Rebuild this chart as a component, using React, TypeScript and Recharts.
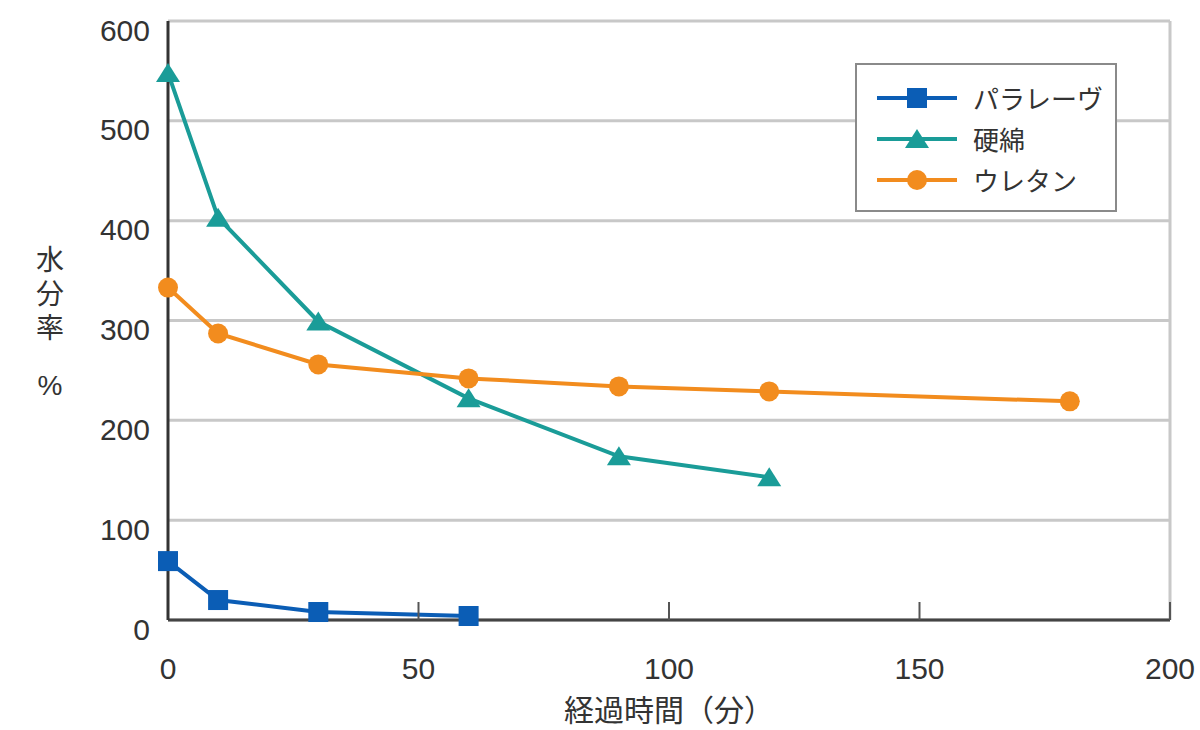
import { CartesianGrid, Legend, Line, LineChart, ReferenceLine, XAxis, YAxis } from "recharts";

// 経過時間（分）ごとの水分率（%）
const paraTimes = [0, 10, 30, 60];
const paraValues = [59, 20, 8, 4];

const koumenTimes = [0, 10, 30, 60, 90, 120];
const koumenValues = [548, 403, 299, 222, 164, 143];

const urethaneTimes = [0, 10, 30, 60, 90, 120, 180];
const urethaneValues = [333, 287, 256, 242, 234, 229, 219];

const xTicks = [0, 50, 100, 150, 200];
const yTicks = [0, 100, 200, 300, 400, 500, 600];

const seriesNames = ["パラレーヴ", "硬綿", "ウレタン"];

const toRows = (ts: number[], vs: number[]) => ts.map((t, i) => ({ t, v: vs[i] }));

const BLUE = "#0b5db5";
const TEAL = "#1a9c98";
const ORANGE = "#f28c1e";
const LATIN = '"Liberation Sans", Arial, sans-serif';
const CJK = '"Noto Sans CJK JP", "Noto Sans", sans-serif';

const series = [
  { name: seriesNames[0], data: toRows(paraTimes, paraValues), color: BLUE, shape: "square" },
  { name: seriesNames[1], data: toRows(koumenTimes, koumenValues), color: TEAL, shape: "triangle" },
  { name: seriesNames[2], data: toRows(urethaneTimes, urethaneValues), color: ORANGE, shape: "circle" },
];

function Marker({ cx, cy, shape, color }: { cx: number; cy: number; shape: string; color: string }) {
  if (shape === "square") return <rect x={cx - 10} y={cy - 10} width={20} height={20} fill={color} />;
  if (shape === "triangle")
    return <polygon points={`${cx},${cy - 10} ${cx + 12},${cy + 9} ${cx - 12},${cy + 9}`} fill={color} />;
  return <circle cx={cx} cy={cy} r={10} fill={color} />;
}

const X_MARGIN = 48;

function XTick({ x, y, payload }: any) {
  const axisY = y - X_MARGIN;
  return (
    <g>
      {payload.value !== 0 && <line x1={x} x2={x} y1={axisY} y2={axisY - 18} stroke="#555" strokeWidth={2} />}
      <text x={x} y={y} textAnchor="middle" dominantBaseline="central" fontSize={30} fill="#333" fontFamily={LATIN}>
        {payload.value}
      </text>
    </g>
  );
}

function YTick({ x, y, payload }: any) {
  return (
    <text x={x} y={y + 9} textAnchor="end" dominantBaseline="central" fontSize={30} fill="#333" fontFamily={LATIN}>
      {payload.value}
    </text>
  );
}

// 縦書きの「水分率」と、その下の「%」
function YLabel({ viewBox }: any) {
  const mid = viewBox.y + viewBox.height / 2;
  return (
    <g fill="#333">
      <text
        x={50}
        y={mid - 24}
        textAnchor="middle"
        fontSize={28}
        fontFamily={CJK}
        style={{ writingMode: "vertical-rl", letterSpacing: 6 }}
      >
        水分率
      </text>
      <text x={50} y={mid + 65} textAnchor="middle" dominantBaseline="central" fontFamily={LATIN} fontSize={28}>
        %
      </text>
    </g>
  );
}

function LegendBox() {
  return (
    <div
      style={{
        width: 262,
        height: 149,
        boxSizing: "border-box",
        border: "2px solid #8a8a8a",
        background: "#fff",
        padding: "12px 0 0 18px",
      }}
    >
      {series.map(s => (
        <div key={s.name} style={{ display: "flex", alignItems: "center", height: 41 }}>
          <svg width={84} height={30}>
            <line x1={2} x2={82} y1={15} y2={15} stroke={s.color} strokeWidth={4} />
            <Marker cx={42} cy={15} shape={s.shape} color={s.color} />
          </svg>
          <span style={{ marginLeft: 14, fontSize: 26, color: "#333", fontFamily: CJK }}>{s.name}</span>
        </div>
      ))}
    </div>
  );
}

export default function App() {
  return (
    <div style={{ position: "absolute", left: 0, top: 0, width: 1200, height: 730, background: "#fff" }}>
      <LineChart width={1200} height={730} margin={{ top: 21, right: 30, bottom: 0, left: 0 }}>
        <CartesianGrid vertical={false} stroke="#c8c8c8" strokeWidth={3} />
        <ReferenceLine x={200} stroke="#c8c8c8" strokeWidth={3} />
        <XAxis
          type="number"
          dataKey="t"
          domain={[0, 200]}
          ticks={xTicks}
          height={110}
          tickSize={0}
          tickMargin={X_MARGIN}
          tick={<XTick />}
          axisLine={{ stroke: "#444", strokeWidth: 3 }}
          label={{
            value: "経過時間（分）",
            position: "insideBottom",
            offset: 9,
            fontSize: 30,
            fill: "#333",
            fontFamily: CJK,
          }}
        />
        <YAxis
          type="number"
          domain={[0, 600]}
          ticks={yTicks}
          width={168}
          tickSize={0}
          tickMargin={18}
          tick={<YTick />}
          axisLine={{ stroke: "#333", strokeWidth: 3 }}
          label={<YLabel />}
        />
        <Legend
          layout="horizontal"
          verticalAlign="middle"
          align="center"
          content={() => <LegendBox />}
          wrapperStyle={{ position: "absolute", left: 855, top: 63, width: 262, height: 149 }}
        />
        {series.map(s => (
          <Line
            key={s.name}
            data={s.data}
            dataKey="v"
            name={s.name}
            stroke={s.color}
            strokeWidth={4}
            isAnimationActive={false}
            dot={(p: any) => <Marker key={`${s.name}-${p.index}`} cx={p.cx} cy={p.cy} shape={s.shape} color={s.color} />}
            activeDot={false}
          />
        ))}
      </LineChart>
    </div>
  );
}
